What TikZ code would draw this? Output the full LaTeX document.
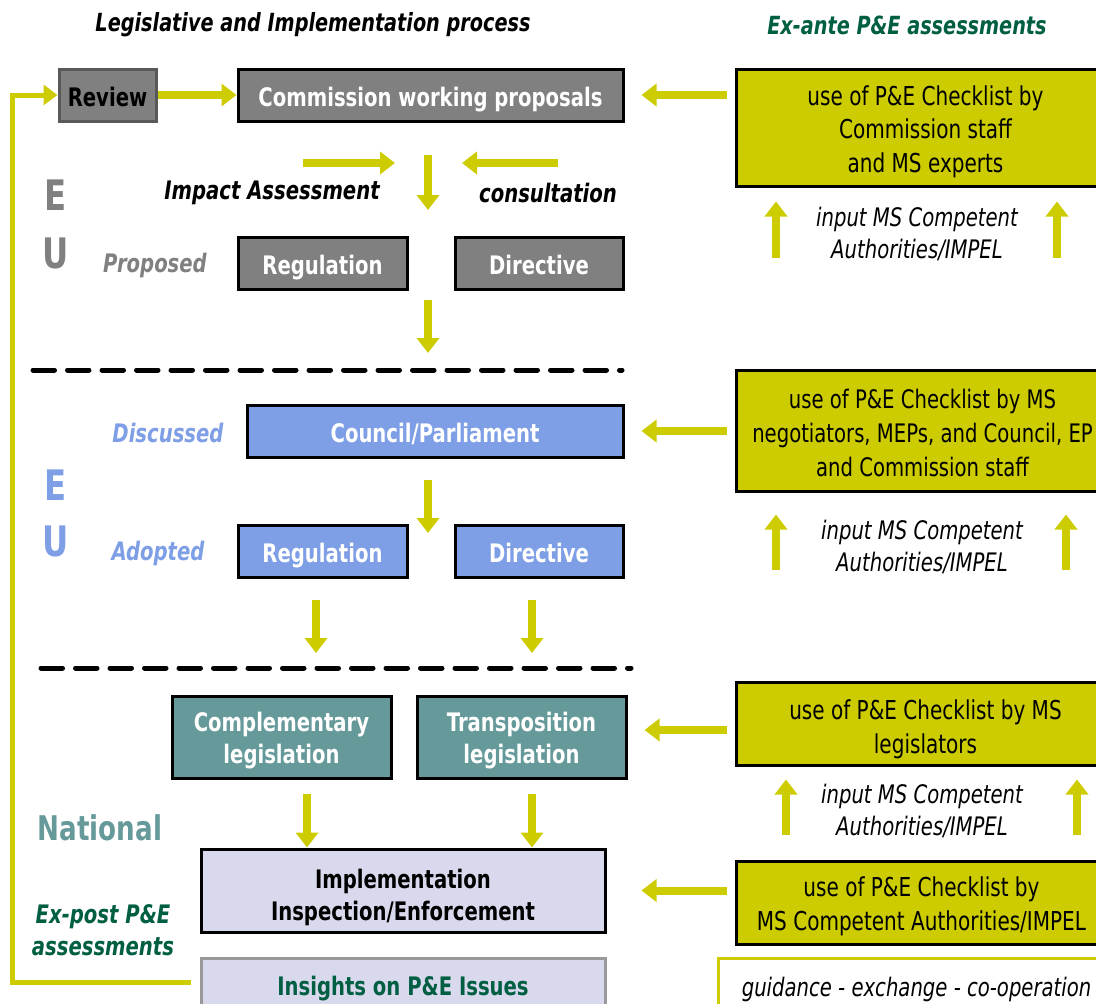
\documentclass[tikz,border=0pt]{standalone}
\usepackage{fontspec}
\setmainfont{DejaVu Sans}[FakeStretch=0.77]
\usetikzlibrary{arrows.meta}
\definecolor{yg}{RGB}{204,204,0}
\definecolor{boxgray}{RGB}{128,128,128}
\definecolor{euBlue}{RGB}{126,158,230}
\definecolor{natTeal}{RGB}{102,153,153}
\definecolor{lav}{RGB}{217,217,237}
\definecolor{dkgreen}{RGB}{0,94,66}
\tikzset{
  box/.style={draw=black, line width=3pt, inner sep=0pt, align=center, text=white,
    font=\bfseries\fontsize{25.5}{32}\selectfont},
  oneline/.style={text height=24pt, text depth=1.4pt},
  graybox/.style={box, fill=boxgray},
  bluebox/.style={box, fill=euBlue},
  tealbox/.style={box, fill=natTeal},
  lavbox/.style={box, fill=lav, text=black},
  boxtext/.style={inner sep=0pt, align=center, text=white, font=\bfseries\fontsize{25.5}{32}\selectfont},
  ygbox/.style={draw=black, line width=3pt, fill=yg, inner sep=0pt, minimum width=379pt},
  ygtext/.style={inner sep=0pt, align=center, font=\fontsize{26}{33.5}\selectfont},
  arr/.style={draw=yg, line width=8pt, -{Triangle[width=22pt,length=15pt]}},
  looparr/.style={draw=yg, line width=5pt, -{Triangle[width=20pt,length=14pt]}},
  note/.style={font=\itshape\fontsize{25.5}{32}\selectfont, align=center},
  head/.style={font=\bfseries\itshape\fontsize{25}{28}\selectfont},
  lbl/.style={font=\bfseries\itshape\fontsize{25.5}{28}\selectfont},
  big/.style={font=\bfseries\fontsize{42}{56}\selectfont},
  divider/.style={line width=5pt, dash pattern=on 21.5pt off 13pt, line cap=round}
}
\begin{document}
\begin{tikzpicture}[x=1pt,y=-1pt]
\useasboundingbox (0,0) rectangle (1096,1004);
\clip (0,0) rectangle (1096,1004);

% headings
\node[head] (t1) at (313,25) {Legislative and Implementation process};
\node[head, text=dkgreen] (t2) at (907,25) {Ex-ante P\&E assessments};

% EU proposal stage
\node[graybox, oneline, draw=black!65, text=black, minimum width=97pt, minimum height=52pt] (rev) at (107.5,95) {Review};
\node[graybox, oneline, minimum width=385pt, minimum height=52pt] (cwp) at (430.5,95) {Commission working proposals};
\node[ygbox, minimum height=117pt] (pe1) at (925.5,127.5) {};
\node[ygtext] (pe1T) at ([yshift=-4pt]pe1.center) {use of P\&E Checklist by\\Commission staff\\and MS experts};
\node[note] (in1) at (917,234) {input MS Competent\\Authorities/IMPEL};
\node[lbl] (ia) at (272,193) {Impact Assessment};
\node[lbl] (cons) at (548,193) {consultation};
\node[big, text=boxgray] (e1) at (56,195) {E};
\node[big, text=boxgray] (u1) at (56,253) {U};
\node[lbl, text=boxgray] (prop) at (155,265) {Proposed};
\node[graybox, oneline, minimum width=169pt, minimum height=52pt] (preg) at (322.5,263) {Regulation};
\node[graybox, oneline, minimum width=168pt, minimum height=52pt] (pdir) at (539,263) {Directive};

% EU adoption stage
\node[bluebox, oneline, minimum width=376pt, minimum height=52pt] (cc) at (435,431) {Council/Parliament};
\node[ygbox, minimum height=121pt] (pe2) at (925.5,430.5) {};
\node[ygtext, font=\fontsize{25.5}{34}\selectfont] (pe2T) at ([yshift=-2pt,xshift=-3pt]pe2.center) {use of P\&E Checklist by MS\\negotiators, MEPs, and Council, EP\\and Commission staff};
\node[note] (in2) at (922,547) {input MS Competent\\Authorities/IMPEL};
\node[lbl, text=euBlue] (disc) at (168,433) {Discussed};
\node[lbl, text=euBlue] (adop) at (158,553) {Adopted};
\node[big, text=euBlue] (e2) at (56,485) {E};
\node[big, text=euBlue] (u2) at (56,541) {U};
\node[bluebox, oneline, minimum width=169pt, minimum height=52pt] (areg) at (322.5,551) {Regulation};
\node[bluebox, oneline, minimum width=168pt, minimum height=52pt] (adir) at (539,551) {Directive};

% National stage
\node[tealbox, minimum width=219pt, minimum height=82pt] (comp) at (281.5,737) {};
\node[boxtext] (compT) at ([yshift=-4pt]comp.center) {Complementary\\legislation};
\node[tealbox, minimum width=209pt, minimum height=82pt] (trans) at (521.5,737) {};
\node[boxtext] (transT) at ([yshift=-4pt]trans.center) {Transposition\\legislation};
\node[ygbox, minimum height=83pt] (pe3) at (925.5,723.5) {};
\node[ygtext] (pe3T) at ([yshift=-6pt]pe3.center) {use of P\&E Checklist by MS\\legislators};
\node[note] (in3) at (922,811) {input MS Competent\\Authorities/IMPEL};
\node[font=\bfseries\fontsize{34}{44}\selectfont, text=natTeal] (nat) at (100,828) {National};
\node[lavbox, minimum width=404pt, minimum height=83pt] (impl) at (403,890.5) {};
\node[boxtext, text=black] (implT) at ([yshift=-7pt]impl.center) {Implementation\\Inspection/Enforcement};
\node[ygbox, minimum height=83pt] (pe4) at (925.5,902.5) {};
\node[ygtext] (pe4T) at ([yshift=-4pt,xshift=-4pt]pe4.center) {use of P\&E Checklist by\\MS Competent Authorities/IMPEL};
\node[lbl, text=dkgreen, align=center, font=\bfseries\itshape\fontsize{25.5}{32}\selectfont] (expost) at (103,930) {Ex-post P\&E\\assessments};
\node[lavbox, oneline, draw=black!40, text=dkgreen, minimum width=404pt, minimum height=52pt] (ins) at (403,984) {Insights on P\&E Issues};
\node[draw=yg, line width=3pt, fill=white, minimum width=397pt, minimum height=54pt, inner sep=0pt, note, text height=24pt, text depth=1.4pt] (guid) at (916.5,985) {guidance - exchange - co-operation};

% dividers
\draw[divider] (33,370) -- (622,370);
\draw[divider] (41,668) -- (631,668);

% horizontal connectors
\draw[arr] (rev.east) -- (cwp.west);
\draw[arr, shorten <=8pt, shorten >=17pt] (pe1.west |- cwp.east) -- (cwp.east);
\draw[arr, shorten <=8pt, shorten >=17pt] (pe2.west |- cc.east) -- (cc.east);
\draw[arr, shorten <=8pt, shorten >=17pt] ([yshift=7pt]pe3.west |- trans.east) -- ([yshift=7pt]trans.east);
\draw[arr, shorten <=8pt, shorten >=35pt] (pe4.west |- impl.east) -- (impl.east);

% free arrows
\coordinate (iaA) at (303,163); \coordinate (iaB) at (395,163);
\coordinate (coA) at (558,163); \coordinate (coB) at (462,163);
\coordinate (d1A) at (428,153); \coordinate (d1B) at (428,210);
\coordinate (d2A) at (428,298); \coordinate (d2B) at (428,353);
\draw[arr] (iaA) -- (iaB);
\draw[arr] (coA) -- (coB);
\draw[arr, shorten <=32pt] (cwp.south -| d1A) -- (d1B);
\draw[arr, shorten <=9pt] (pdir.south -| d2A) -- (d2B);

\coordinate (d3B) at (428,533);
\draw[arr, shorten <=21pt] (cc.south -| d3B) -- (d3B);
\coordinate (d4B) at (316,653); \coordinate (d5B) at (532,653);
\draw[arr, shorten <=21pt] (areg.south -| d4B) -- (d4B);
\draw[arr, shorten <=21pt] (adir.south -| d5B) -- (d5B);
\coordinate (d6A) at (307,792); \coordinate (d7A) at (532,792);
\draw[arr, shorten <=14pt] (comp.south -| d6A) -- (impl.north -| d6A);
\draw[arr, shorten <=14pt] (trans.south -| d7A) -- (impl.north -| d7A);

% up arrows (inputs)
\coordinate (u1a) at (776,258); \coordinate (u1b) at (1057,258);
\draw[arr, shorten >=14pt] (u1a) -- (u1a |- pe1.south);
\draw[arr, shorten >=14pt] (u1b) -- (u1b |- pe1.south);
\coordinate (u2a) at (776,570); \coordinate (u2b) at (1066,570);
\draw[arr, shorten >=22pt] (u2a) -- (u2a |- pe2.south);
\draw[arr, shorten >=22pt] (u2b) -- (u2b |- pe2.south);
\coordinate (u3a) at (786,835); \coordinate (u3b) at (1077,835);
\draw[arr, shorten >=13pt] (u3a) -- (u3a |- pe3.south);
\draw[arr, shorten >=13pt] (u3b) -- (u3b |- pe3.south);

% feedback loop
\coordinate (lp) at (12,95);
\draw[looparr, line cap=rect] ([xshift=-11pt,yshift=2pt]ins.west) -| (lp) -- (rev.west);
\end{tikzpicture}
\end{document}
